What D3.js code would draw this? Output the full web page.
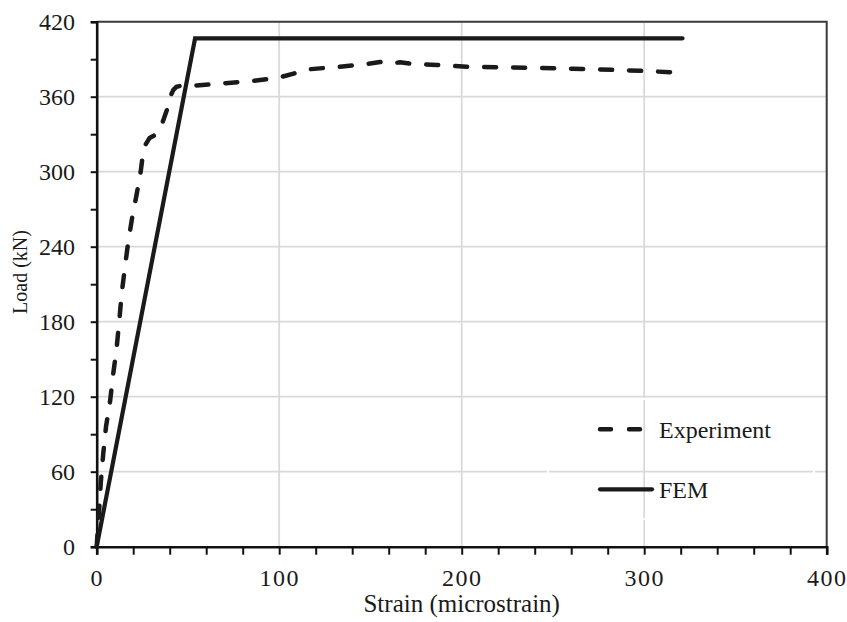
<!DOCTYPE html>
<html>
<head>
<meta charset="utf-8">
<script src="https://cdn.jsdelivr.net/npm/d3@7"></script>
<style>
    body { margin: 0; background: #fff; }
    text { font-family: "Liberation Serif", "Times New Roman", serif; fill: #1a1a1a; }
</style>
</head>
<body>
<svg id="chart"></svg>
<script>
var w = 847;
var h = 622;

// experiment curve (strain in microstrain, load in kN)
var expStrain = [0, 0.9, 1.3, 2.2, 3.6, 5.1, 7.3, 9.1, 11, 12.4, 13.7, 15.5, 17.3, 19.5, 21.9, 24.1, 25.5, 26.5, 29, 31.5, 33, 35.6, 38.6, 40.2, 42, 43.8, 47, 51.1, 69.4, 85.8, 100.4, 116.9, 133.3, 148, 155.2, 160, 166.2, 173.5, 186.3, 202.7, 219.2, 235.6, 251.1, 267.6, 284, 299.5, 316, 319.6];
var expLoad = [0, 21, 28, 50.7, 74.7, 96, 116, 138.7, 160, 181.4, 202.7, 224, 244, 264, 282, 300, 316, 321, 327, 329, 332, 337.4, 350, 360, 365.4, 368, 369, 368.6, 370.7, 372.6, 375.5, 382, 384, 386.2, 387.8, 386.5, 387.5, 386.2, 385.4, 384, 383.5, 383.2, 382.7, 382.2, 381.4, 380.6, 379.5, 379.2];

// FEM curve
var femStrain = [0, 53.9, 321];
var femLoad = [0, 406.7, 406.7];

// axis ticks
var xTicks = d3.range(0, 401, 20);
var xLabels = [0, 100, 200, 300, 400];
var yTicks = d3.range(0, 421, 30);
var yLabels = [0, 60, 120, 180, 240, 300, 360, 420];
var xGrid = [100, 200, 300];
var yGrid = [60, 120, 180, 240, 300, 360];

var legendNames = ["Experiment", "FEM"];

var mLeft = 96.7, mRight = 826.7, mTop = 21.7, mBottom = 546.7;

var x = d3.scaleLinear().domain([0, 400]).range([mLeft, mRight]);
var y = d3.scaleLinear().domain([0, 420]).range([mBottom, mTop]);

var svg = d3.select("#chart")
    .attr("width", w)
    .attr("height", h);

// gridlines
svg.append("g")
    .selectAll("line")
    .data(xGrid)
    .enter()
    .append("line")
    .attr("x1", d => x(d)).attr("x2", d => x(d))
    .attr("y1", mTop).attr("y2", mBottom)
    .attr("stroke", "#d9d9d9")
    .attr("stroke-width", 1.8);
svg.append("g")
    .selectAll("line")
    .data(yGrid)
    .enter()
    .append("line")
    .attr("x1", mLeft).attr("x2", mRight)
    .attr("y1", d => y(d)).attr("y2", d => y(d))
    .attr("stroke", "#d9d9d9")
    .attr("stroke-width", 1.8);

// legend box edge (white outline that breaks the gridlines)
svg.append("rect")
    .attr("x", 548).attr("y", 399)
    .attr("width", 814 - 548).attr("height", 519 - 399)
    .attr("fill", "none")
    .attr("stroke", "#fff")
    .attr("stroke-width", 2);

// top and right border
svg.append("path")
    .attr("d", `M${mLeft},${mTop}H${mRight}V${mBottom}`)
    .attr("fill", "none")
    .attr("stroke", "#3a3a3a")
    .attr("stroke-width", 2);

// axes
var xAxis = svg.append("g")
    .attr("transform", `translate(0,${mBottom})`)
    .call(d3.axisBottom(x).tickValues(xTicks).tickSize(8).tickFormat(d => xLabels.includes(d) ? d : ""));
var yAxis = svg.append("g")
    .attr("transform", `translate(${mLeft},0)`)
    .call(d3.axisLeft(y).tickValues(yTicks).tickSize(6).tickFormat(d => yLabels.includes(d) ? d : ""));

[xAxis, yAxis].forEach(a => {
    a.select(".domain").attr("stroke", "#111").attr("stroke-width", 2.6);
    a.selectAll(".tick line").attr("stroke", "#111").attr("stroke-width", 2);
    a.selectAll(".tick text")
        .attr("fill", "#1a1a1a")
        .style("font-family", "'Liberation Serif', 'Times New Roman', serif")
        .style("font-size", "24px");
});
xAxis.selectAll(".tick text")
    .attr("y", 22)
    .attr("dy", "0.71em")
    .style("letter-spacing", "1.5px");
yAxis.selectAll(".tick text")
    .attr("x", -21.7);

// axis titles
svg.append("text")
    .attr("x", (mLeft + mRight) / 2)
    .attr("y", 612)
    .attr("text-anchor", "middle")
    .style("font-size", "25px")
    .text("Strain (microstrain)");
svg.append("text")
    .attr("transform", "translate(26.5,272) rotate(-90)")
    .attr("text-anchor", "middle")
    .style("font-size", "20px")
    .text("Load (kN)");

// lines
var line = d3.line()
    .x(d => x(d[0]))
    .y(d => y(d[1]));

var expData = expStrain.map((s, i) => [s, expLoad[i]]);
var femData = femStrain.map((s, i) => [s, femLoad[i]]);

svg.append("path")
    .datum(expData)
    .attr("d", line)
    .attr("fill", "none")
    .attr("stroke", "#1a1a1a")
    .attr("stroke-width", 4.5)
    .attr("stroke-linecap", "round")
    .attr("stroke-linejoin", "round")
    .attr("stroke-dasharray", "12,17");

svg.append("path")
    .datum(femData)
    .attr("d", line)
    .attr("fill", "none")
    .attr("stroke", "#1a1a1a")
    .attr("stroke-width", 4.2)
    .attr("stroke-linecap", "round")
    .attr("stroke-linejoin", "miter");

// legend
var legend = svg.append("g");
legend.append("line")
    .attr("x1", 600).attr("x2", 642)
    .attr("y1", 429.3).attr("y2", 429.3)
    .attr("stroke", "#1a1a1a")
    .attr("stroke-width", 4.5)
    .attr("stroke-linecap", "round")
    .attr("stroke-dasharray", "11,18");
legend.append("line")
    .attr("x1", 600).attr("x2", 652)
    .attr("y1", 489.3).attr("y2", 489.3)
    .attr("stroke", "#1a1a1a")
    .attr("stroke-width", 4.2)
    .attr("stroke-linecap", "round");
legend.selectAll("text.lg")
    .data(legendNames)
    .enter()
    .append("text")
    .attr("class", "lg")
    .attr("x", 659)
    .attr("y", (d, i) => i === 0 ? 438.3 : 498.3)
    .style("font-size", "24px")
    .text(d => d);
</script>
</body>
</html>
